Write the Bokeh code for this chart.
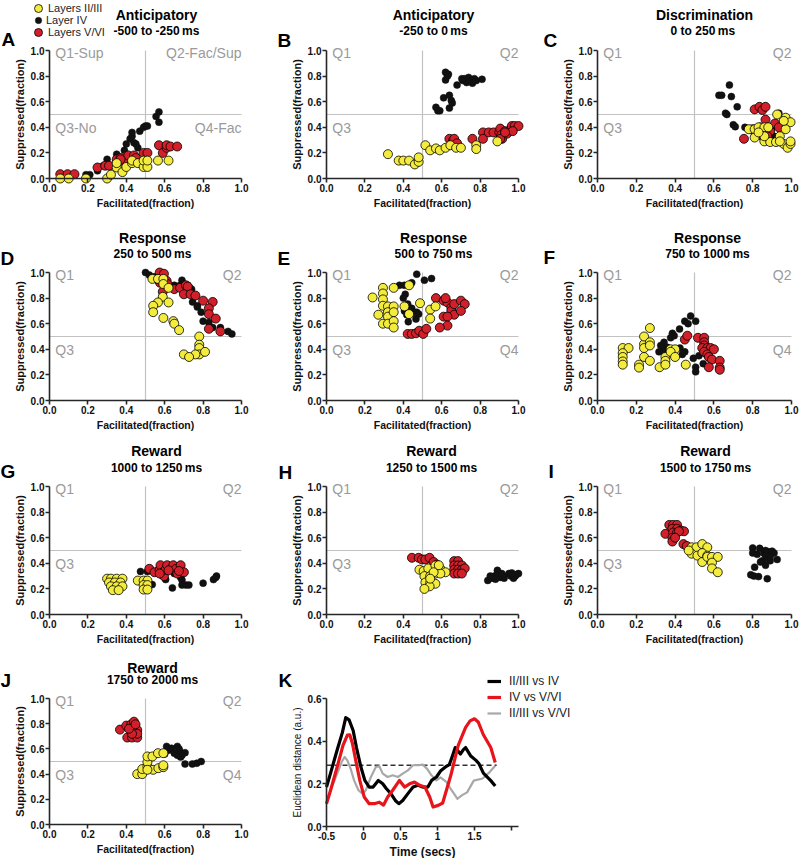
from bokeh.plotting import figure
from bokeh.models import Range1d, Legend, LegendItem, FixedTicker, PrintfTickFormatter
from bokeh.layouts import row, column
from bokeh.embed import file_html
from bokeh.resources import INLINE
from bokeh.core.properties import value

# ---------------------------------------------------------------- data
LAYER_NAMES = ["Layers II/III", "Layer IV", "Layers V/VI"]
AXIS_TICKS = [0.0, 0.2, 0.4, 0.6, 0.8, 1.0]
X_LABEL = "Facilitated(fraction)"
Y_LABEL = "Suppressed(fraction)"
QUAD_SPLIT = 0.5
Q_TOP_Y = 0.98
Q_LOW_Y = 0.395

A_TITLE = ["Anticipatory", "-500 to -250\u2009ms"]
B_TITLE = ["Anticipatory", "-250 to 0\u2009ms"]
C_TITLE = ["Discrimination", "0 to  250\u2009ms"]
D_TITLE = ["Response", "250 to 500\u2009ms"]
E_TITLE = ["Response", "500 to 750\u2009ms"]
F_TITLE = ["Response", "750 to 1000\u2009ms"]
G_TITLE = ["Reward", "1000 to 1250\u2009ms"]
H_TITLE = ["Reward", "1250 to 1500\u2009ms"]
I_TITLE = ["Reward", "1500 to 1750\u2009ms"]
J_TITLE = ["Reward", "1750 to 2000\u2009ms"]

A_QUADS = ["Q1-Sup", "Q2-Fac/Sup", "Q3-No", "Q4-Fac"]
B_QUADS = ["Q1", "Q2", "Q3", ""]
C_QUADS = ["Q1", "Q2", "Q3", ""]
D_QUADS = ["Q1", "Q2", "Q3", ""]
E_QUADS = ["Q1", "Q2", "Q3", "Q4"]
F_QUADS = ["Q1", "Q2", "", "Q4"]
G_QUADS = ["Q1", "Q2", "Q3", ""]
H_QUADS = ["Q1", "Q2", "Q3", ""]
I_QUADS = ["Q1", "Q2", "Q3", ""]
J_QUADS = ["Q1", "Q2", "Q3", "Q4"]

# (facilitated, suppressed) pairs per layer
A_L23 = [(0.056, 0.0), (0.10, 0.0), (0.19, 0.0), (0.30, 0.0), (0.32, 0.03), (0.35, 0.086), (0.35, 0.12),
         (0.38, 0.05), (0.40, 0.09), (0.43, 0.12), (0.43, 0.14), (0.46, 0.12), (0.49, 0.09), (0.49, 0.14),
         (0.51, 0.09), (0.51, 0.14), (0.565, 0.14), (0.62, 0.14)]
A_L4 = [(0.06, 0.0), (0.19, 0.03), (0.21, 0.03), (0.25, 0.06), (0.28, 0.10), (0.30, 0.15), (0.35, 0.19),
        (0.39, 0.22), (0.40, 0.27), (0.42, 0.31), (0.43, 0.33), (0.43, 0.36), (0.44, 0.28), (0.45, 0.27),
        (0.46, 0.24), (0.47, 0.37), (0.49, 0.40), (0.50, 0.41), (0.51, 0.41), (0.555, 0.485), (0.57, 0.52),
        (0.57, 0.44)]
A_L56 = [(0.056, 0.034), (0.094, 0.034), (0.13, 0.034), (0.25, 0.086), (0.29, 0.10), (0.31, 0.10),
         (0.35, 0.15), (0.37, 0.16), (0.39, 0.13), (0.41, 0.18), (0.44, 0.18), (0.49, 0.20), (0.51, 0.20),
         (0.57, 0.26), (0.59, 0.20), (0.61, 0.24), (0.61, 0.26), (0.63, 0.25), (0.665, 0.25), (0.37, 0.15),
         (0.45, 0.16)]

B_L23 = [(0.32, 0.19), (0.376, 0.14), (0.40, 0.14), (0.43, 0.14), (0.46, 0.11), (0.48, 0.13), (0.48, 0.165),
         (0.515, 0.26), (0.54, 0.22), (0.57, 0.235), (0.59, 0.22), (0.62, 0.24), (0.645, 0.26), (0.675, 0.24),
         (0.70, 0.24), (0.78, 0.26), (0.78, 0.23), (0.89, 0.29)]
B_L4 = [(0.57, 0.556), (0.58, 0.53), (0.59, 0.53), (0.61, 0.63), (0.64, 0.65), (0.65, 0.61), (0.655, 0.59),
        (0.64, 0.55), (0.62, 0.83), (0.63, 0.80), (0.62, 0.77), (0.635, 0.815), (0.68, 0.73), (0.705, 0.78),
        (0.72, 0.78), (0.74, 0.79), (0.75, 0.76), (0.77, 0.78), (0.76, 0.745), (0.78, 0.765), (0.81, 0.775),
        (0.73, 0.75), (0.71, 0.765)]
B_L56 = [(0.64, 0.31), (0.66, 0.30), (0.665, 0.31), (0.68, 0.275), (0.76, 0.31), (0.815, 0.36), (0.815, 0.31),
         (0.845, 0.36), (0.87, 0.36), (0.90, 0.36), (0.905, 0.39), (0.91, 0.34), (0.915, 0.31), (0.93, 0.37),
         (0.94, 0.35), (0.96, 0.385), (0.965, 0.41), (0.98, 0.41), (1.0, 0.41), (0.97, 0.37), (0.905, 0.31),
         (0.93, 0.36)]

C_L23 = [(0.78, 0.385), (0.81, 0.385), (0.83, 0.40), (0.86, 0.40), (0.88, 0.40), (0.81, 0.32), (0.86, 0.29),
         (0.89, 0.285), (0.92, 0.285), (0.94, 0.33), (0.926, 0.50), (0.97, 0.475), (0.995, 0.44), (0.97, 0.385),
         (0.96, 0.27), (0.98, 0.24), (0.995, 0.27), (0.94, 0.29), (0.995, 0.29), (0.86, 0.33), (0.96, 0.45),
         (0.83, 0.36)]
C_L4 = [(0.626, 0.65), (0.64, 0.65), (0.68, 0.73), (0.69, 0.64), (0.66, 0.51), (0.667, 0.50), (0.72, 0.56),
        (0.70, 0.42), (0.71, 0.405), (0.76, 0.40), (0.79, 0.39), (0.83, 0.36), (0.86, 0.35), (0.88, 0.39),
        (0.90, 0.40), (0.935, 0.51), (0.95, 0.42), (0.96, 0.43), (0.87, 0.36), (0.91, 0.33)]
C_L56 = [(0.81, 0.54), (0.835, 0.56), (0.85, 0.535), (0.866, 0.56), (0.866, 0.46), (0.755, 0.31), (0.80, 0.385),
         (0.82, 0.37), (0.84, 0.36), (0.85, 0.33), (0.86, 0.39), (0.88, 0.40), (0.89, 0.37), (0.915, 0.43),
         (0.935, 0.40), (0.875, 0.33), (0.815, 0.345), (0.84, 0.40)]

D_L23 = [(0.536, 0.95), (0.565, 0.95), (0.593, 0.95), (0.593, 0.91), (0.62, 0.88), (0.59, 0.81), (0.565, 0.766),
         (0.62, 0.766), (0.54, 0.74), (0.54, 0.69), (0.593, 0.645), (0.645, 0.62), (0.65, 0.60), (0.675, 0.55),
         (0.78, 0.50), (0.78, 0.436), (0.78, 0.41), (0.78, 0.36), (0.81, 0.38), (0.76, 0.36), (0.70, 0.36),
         (0.727, 0.34)]
D_L4 = [(0.50, 1.0), (0.52, 0.98), (0.545, 0.966), (0.57, 0.95), (0.65, 0.90), (0.69, 0.94), (0.72, 0.90),
        (0.73, 0.88), (0.74, 0.87), (0.745, 0.77), (0.77, 0.74), (0.79, 0.69), (0.80, 0.62), (0.83, 0.61),
        (0.85, 0.57), (0.89, 0.57), (0.93, 0.54), (0.95, 0.52), (0.77, 0.73), (0.68, 0.90), (0.71, 0.88)]
D_L56 = [(0.574, 1.0), (0.596, 0.99), (0.576, 0.92), (0.59, 0.85), (0.61, 0.935), (0.614, 0.91), (0.65, 0.87),
         (0.68, 0.88), (0.71, 0.90), (0.72, 0.89), (0.70, 0.83), (0.735, 0.83), (0.76, 0.82), (0.80, 0.78),
         (0.85, 0.77), (0.83, 0.72), (0.83, 0.675), (0.866, 0.64), (0.83, 0.56), (0.89, 0.54), (0.56, 0.95)]

E_L23 = [(0.24, 0.805), (0.294, 0.88), (0.294, 0.836), (0.294, 0.79), (0.294, 0.74), (0.294, 0.60),
         (0.27, 0.67), (0.32, 0.735), (0.32, 0.69), (0.32, 0.655), (0.32, 0.60), (0.35, 0.88), (0.35, 0.735),
         (0.35, 0.69), (0.35, 0.62), (0.35, 0.57), (0.43, 0.90), (0.406, 0.735), (0.43, 0.675), (0.487, 0.76),
         (0.54, 0.71), (0.568, 0.735), (0.54, 0.64)]
E_L4 = [(0.38, 0.90), (0.406, 0.90), (0.444, 0.92), (0.47, 0.987), (0.51, 0.94), (0.547, 0.953), (0.41, 0.83),
        (0.40, 0.80), (0.423, 0.753), (0.426, 0.70), (0.418, 0.67), (0.426, 0.615), (0.444, 0.72),
        (0.453, 0.69), (0.47, 0.69), (0.48, 0.675), (0.466, 0.636), (0.44, 0.68), (0.406, 0.70)]
E_L56 = [(0.423, 0.52), (0.444, 0.52), (0.466, 0.525), (0.483, 0.545), (0.504, 0.52), (0.52, 0.56),
         (0.57, 0.80), (0.61, 0.78), (0.63, 0.766), (0.65, 0.727), (0.65, 0.70), (0.665, 0.67), (0.665, 0.753),
         (0.70, 0.78), (0.72, 0.753), (0.70, 0.70), (0.61, 0.655), (0.63, 0.655), (0.63, 0.585), (0.59, 0.57),
         (0.62, 0.80)]

F_L23 = [(0.13, 0.41), (0.16, 0.41), (0.13, 0.37), (0.13, 0.34), (0.13, 0.305), (0.13, 0.28), (0.214, 0.28),
         (0.214, 0.257), (0.24, 0.44), (0.24, 0.50), (0.24, 0.41), (0.24, 0.34), (0.27, 0.566), (0.27, 0.455),
         (0.27, 0.43), (0.27, 0.31), (0.32, 0.26), (0.35, 0.34), (0.35, 0.31), (0.35, 0.28), (0.377, 0.40),
         (0.40, 0.40), (0.377, 0.38), (0.40, 0.34), (0.455, 0.28)]
F_L4 = [(0.317, 0.38), (0.326, 0.43), (0.343, 0.455), (0.36, 0.416), (0.343, 0.39), (0.377, 0.49),
        (0.386, 0.525), (0.395, 0.506), (0.425, 0.41), (0.437, 0.36), (0.45, 0.38), (0.423, 0.558),
        (0.45, 0.62), (0.467, 0.60), (0.48, 0.66), (0.506, 0.62), (0.494, 0.33), (0.506, 0.26),
        (0.506, 0.224), (0.523, 0.35), (0.545, 0.288)]
F_L56 = [(0.45, 0.476), (0.463, 0.506), (0.518, 0.49), (0.55, 0.49), (0.55, 0.455), (0.55, 0.43), (0.54, 0.41),
         (0.566, 0.41), (0.583, 0.41), (0.55, 0.38), (0.566, 0.36), (0.574, 0.34), (0.59, 0.32), (0.574, 0.26),
         (0.63, 0.31), (0.63, 0.257), (0.63, 0.24), (0.60, 0.40)]

G_L23 = [(0.30, 0.28), (0.32, 0.28), (0.35, 0.28), (0.38, 0.28), (0.31, 0.25), (0.34, 0.25), (0.37, 0.25),
         (0.32, 0.22), (0.35, 0.22), (0.38, 0.22), (0.33, 0.19), (0.36, 0.19), (0.46, 0.265), (0.49, 0.265),
         (0.51, 0.265), (0.49, 0.23), (0.51, 0.23), (0.49, 0.195), (0.51, 0.195)]
G_L4 = [(0.474, 0.336), (0.51, 0.336), (0.535, 0.234), (0.587, 0.305), (0.605, 0.273), (0.64, 0.208),
        (0.665, 0.344), (0.683, 0.29), (0.69, 0.27), (0.69, 0.23), (0.71, 0.23), (0.726, 0.23), (0.80, 0.245),
        (0.854, 0.273), (0.866, 0.29), (0.87, 0.30), (0.65, 0.32)]
G_L56 = [(0.52, 0.357), (0.547, 0.33), (0.573, 0.35), (0.578, 0.385), (0.59, 0.33), (0.596, 0.30),
         (0.605, 0.35), (0.574, 0.32), (0.613, 0.385), (0.636, 0.36), (0.645, 0.385), (0.657, 0.355),
         (0.666, 0.32), (0.683, 0.385), (0.70, 0.33), (0.62, 0.345), (0.674, 0.34)]

H_L23 = [(0.484, 0.35), (0.506, 0.34), (0.53, 0.36), (0.567, 0.383), (0.593, 0.357), (0.62, 0.33),
         (0.51, 0.30), (0.54, 0.30), (0.567, 0.32), (0.593, 0.32), (0.515, 0.25), (0.54, 0.247), (0.567, 0.24),
         (0.537, 0.22), (0.51, 0.20), (0.558, 0.33), (0.585, 0.385), (0.54, 0.28)]
H_L4 = [(0.84, 0.266), (0.86, 0.284), (0.875, 0.30), (0.89, 0.32), (0.89, 0.345), (0.905, 0.29), (0.92, 0.30),
        (0.925, 0.284), (0.95, 0.32), (0.96, 0.30), (0.974, 0.284), (0.983, 0.30), (0.99, 0.313), (1.0, 0.32),
        (0.88, 0.276), (0.913, 0.32), (0.965, 0.325), (0.853, 0.30)]
H_L56 = [(0.445, 0.443), (0.48, 0.443), (0.497, 0.43), (0.515, 0.43), (0.537, 0.443), (0.558, 0.41),
         (0.575, 0.39), (0.665, 0.417), (0.685, 0.417), (0.665, 0.383), (0.685, 0.383), (0.705, 0.383),
         (0.665, 0.35), (0.685, 0.35), (0.705, 0.35), (0.72, 0.36), (0.665, 0.32), (0.685, 0.32), (0.705, 0.32)]

I_L23 = [(0.485, 0.525), (0.51, 0.525), (0.54, 0.55), (0.566, 0.525), (0.485, 0.475), (0.515, 0.46),
         (0.54, 0.48), (0.566, 0.46), (0.54, 0.41), (0.566, 0.45), (0.59, 0.45), (0.62, 0.45), (0.59, 0.405),
         (0.59, 0.36), (0.62, 0.33), (0.47, 0.50)]
I_L4 = [(0.80, 0.52), (0.80, 0.48), (0.823, 0.47), (0.836, 0.517), (0.857, 0.48), (0.866, 0.50), (0.883, 0.49),
        (0.90, 0.495), (0.91, 0.48), (0.866, 0.46), (0.85, 0.42), (0.875, 0.44), (0.84, 0.41), (0.866, 0.385),
        (0.89, 0.42), (0.926, 0.43), (0.81, 0.37), (0.79, 0.31), (0.806, 0.30), (0.83, 0.296), (0.875, 0.28),
        (0.89, 0.45)]
I_L56 = [(0.35, 0.63), (0.37, 0.70), (0.39, 0.70), (0.41, 0.70), (0.386, 0.67), (0.41, 0.67), (0.43, 0.656),
         (0.446, 0.65), (0.39, 0.64), (0.41, 0.64), (0.386, 0.60), (0.386, 0.57), (0.443, 0.55), (0.46, 0.535),
         (0.42, 0.65), (0.40, 0.60)]

J_L23 = [(0.457, 0.40), (0.483, 0.40), (0.483, 0.44), (0.51, 0.46), (0.51, 0.495), (0.51, 0.54), (0.536, 0.54),
         (0.565, 0.566), (0.593, 0.566), (0.54, 0.434), (0.567, 0.447), (0.593, 0.455), (0.593, 0.47),
         (0.51, 0.434)]
J_L4 = [(0.61, 0.62), (0.62, 0.59), (0.636, 0.605), (0.666, 0.62), (0.65, 0.566), (0.666, 0.55), (0.678, 0.58),
        (0.683, 0.535), (0.706, 0.57), (0.706, 0.48), (0.744, 0.48), (0.767, 0.486), (0.79, 0.50),
        (0.675, 0.60), (0.69, 0.55), (0.60, 0.56)]
J_L56 = [(0.367, 0.753), (0.40, 0.785), (0.405, 0.69), (0.43, 0.69), (0.457, 0.69), (0.426, 0.795),
         (0.44, 0.816), (0.445, 0.78), (0.44, 0.74), (0.457, 0.75), (0.457, 0.72), (0.43, 0.72), (0.414, 0.76),
         (0.448, 0.795)]

# panel K: Euclidean distance between layer populations over time
K_SERIES = ["II/III vs IV", "IV vs V/VI", "II/III vs V/VI"]
K_X_LABEL = "Time (secs)"
K_Y_LABEL = "Euclidean distance (a.u.)"
K_X_BOUNDS = (-0.5, 2.1)
K_Y_BOUNDS = (0.0, 0.6)
K_X_TICKS = [-0.5, 0, 0.5, 1, 1.5, 2]
K_X_TICK_LABELS = {-0.5: "-0.5", 0: "0", 0.5: "0.5", 1: "1", 1.5: "1.5", 2: ""}
K_Y_TICKS = [0.0, 0.2, 0.4, 0.6]
K_THRESHOLD = 0.287
K_THRESHOLD_T = [-0.5, 1.8]
K_A_T = [-0.5, -0.445, -0.355, -0.286, -0.24, -0.195, -0.14, -0.095, -0.036, 0.018, 0.077, 0.13, 0.2, 0.26,
         0.31, 0.37, 0.43, 0.477, 0.53, 0.6, 0.67, 0.736, 0.8, 0.87, 0.92, 0.986, 1.04, 1.12, 1.16, 1.205,
         1.24, 1.31, 1.35, 1.38, 1.45, 1.52, 1.56, 1.62, 1.72, 1.78]
K_A_D = [0.185, 0.25, 0.36, 0.44, 0.51, 0.50, 0.45, 0.37, 0.28, 0.216, 0.185, 0.185, 0.216, 0.20, 0.177,
         0.154, 0.122, 0.107, 0.122, 0.154, 0.185, 0.193, 0.185, 0.185, 0.216, 0.232, 0.26, 0.282, 0.29,
         0.334, 0.37, 0.34, 0.36, 0.37, 0.33, 0.31, 0.295, 0.25, 0.215, 0.19]
K_B_T = [-0.5, -0.445, -0.355, -0.277, -0.218, -0.186, -0.15, -0.105, -0.05, 0.01, 0.077, 0.145, 0.214, 0.27,
         0.327, 0.395, 0.486, 0.555, 0.623, 0.69, 0.76, 0.83, 0.895, 0.94, 1.01, 1.07, 1.18, 1.28, 1.38,
         1.44, 1.5, 1.55, 1.62, 1.72, 1.78]
K_B_D = [0.107, 0.17, 0.28, 0.38, 0.428, 0.43, 0.39, 0.31, 0.216, 0.138, 0.107, 0.107, 0.114, 0.10, 0.138,
         0.17, 0.216, 0.185, 0.20, 0.208, 0.193, 0.185, 0.138, 0.091, 0.099, 0.11, 0.24, 0.38, 0.465,
         0.495, 0.505, 0.49, 0.43, 0.37, 0.30]
K_C_T = [-0.5, -0.445, -0.355, -0.295, -0.255, -0.218, -0.173, -0.127, -0.068, -0.014, 0.032, 0.1, 0.168,
         0.214, 0.26, 0.327, 0.395, 0.464, 0.53, 0.6, 0.668, 0.736, 0.8, 0.86, 0.918, 0.986, 1.04, 1.123,
         1.19, 1.27, 1.327, 1.40, 1.49, 1.61, 1.69, 1.78]
K_C_D = [0.107, 0.17, 0.248, 0.302, 0.326, 0.31, 0.27, 0.216, 0.17, 0.154, 0.17, 0.232, 0.28, 0.282, 0.248,
         0.232, 0.24, 0.232, 0.248, 0.263, 0.287, 0.287, 0.29, 0.27, 0.24, 0.216, 0.23, 0.208, 0.17, 0.13,
         0.146, 0.16, 0.215, 0.225, 0.25, 0.285]

# ---------------------------------------------------------------- style / layout
FONT = "Liberation Sans"
YELLOW = "#f4ec3c"
RED = "#d2202a"
BLACK = "#111111"
AXIS_C = "#262626"
QUAD_TEXT_C = "#9a9a9a"
QUAD_LINE_C = "#c2c2c2"
K_COLORS = ["#000000", "#e8141b", "#a8a8a8"]
K_WIDTHS = [3.2, 3.2, 2.2]

# page geometry in window pixels (Bokeh's page template has no body margin)
# column boxes: (fig left, fig right, x of 0, x of 1)
COLS = [(0, 274, 49, 241), (274, 540, 326, 518), (540, 800, 597, 791)]
# row boxes: (fig top, fig bottom, y of 1, y of 0)
ROWS = [(0, 216, 50, 178), (216, 436, 272, 400), (436, 650, 486, 614), (650, 858, 698, 824)]


def make_fig(fl, ft, fr, fb, x0px, x1px, y1px, y0px, xb, yb):
    """Figure whose frame fills the canvas; data bounds xb/yb land on the given pixels."""
    ux = (x1px - x0px) / (xb[1] - xb[0])
    uy = (y0px - y1px) / (yb[1] - yb[0])

    def fx(px):
        return xb[0] + (px - x0px) / ux

    def fy(py):
        return yb[0] + (y0px - py) / uy

    p = figure(width=fr - fl, height=fb - ft,
               x_range=Range1d(fx(fl), fx(fr)), y_range=Range1d(fy(fb), fy(ft)),
               min_border=0, min_border_left=0, min_border_right=0, min_border_top=0,
               min_border_bottom=0, title=None, output_backend="svg", toolbar_location=None)
    p.background_fill_color = "white"
    p.border_fill_color = "white"
    p.outline_line_color = None
    p.xgrid.visible = False
    p.ygrid.visible = False
    for ax in (p.xaxis[0], p.yaxis[0]):
        ax.axis_line_color = AXIS_C
        ax.axis_line_width = 1.6
        ax.major_tick_line_color = AXIS_C
        ax.major_tick_line_width = 1.6
        ax.major_tick_in = 0
        ax.major_tick_out = 4
        ax.minor_tick_line_color = None
        ax.major_label_text_font = FONT
        ax.major_label_text_font_style = "bold"
        ax.major_label_text_font_size = "10px"
        ax.major_label_text_color = "#111111"
        ax.major_label_standoff = 1
        ax.axis_label_standoff = 2
        ax.axis_label_text_font = FONT
        ax.axis_label_text_color = "#111111"
    p.xaxis[0].fixed_location = yb[0]
    p.yaxis[0].fixed_location = xb[0]
    p.xaxis[0].bounds = xb
    p.yaxis[0].bounds = yb
    return p, fx, fy


def add_text(p, x, y, txt, size, bold=True, align="center", color="#000000"):
    p.text(x=[x], y=[y], text=[txt], text_font=value(FONT), text_font_size=size,
           text_font_style="bold" if bold else "normal", text_color=color,
           text_align=align, text_baseline="middle")


def one_row_legend(label, renderer, left, center_y, fb, box):
    """A single-entry legend whose glyph box (box x box px) starts at x=left, centred at center_y."""
    return Legend(items=[LegendItem(label=label, renderers=[renderer])],
                  location=(left, fb - (center_y + box / 2)),
                  padding=0, margin=0, spacing=0, glyph_width=box, glyph_height=box,
                  label_height=box, label_standoff=0, label_text_font=FONT,
                  label_text_font_size="11px", label_text_color="#222222",
                  background_fill_alpha=0, border_line_alpha=0)


def scatter_panel(ci, ri, title, title_dx, title_dy, letter, letter_x, letter_dy, quads,
                  l23, l4, l56, legend=False):
    fl, fr, x0, x1 = COLS[ci]
    ft, fb, y1, y0 = ROWS[ri]
    p, fx, fy = make_fig(fl, ft, fr, fb, x0, x1, y1, y0, (0.0, 1.0), (0.0, 1.0))
    for ax in (p.xaxis[0], p.yaxis[0]):
        ax.ticker = FixedTicker(ticks=AXIS_TICKS)
        ax.formatter = PrintfTickFormatter(format="%.1f")
    p.xaxis[0].axis_label = X_LABEL
    p.xaxis[0].axis_label_text_font_size = "10.5px"
    p.xaxis[0].axis_label_text_font_style = "bold"
    p.yaxis[0].axis_label = Y_LABEL
    p.yaxis[0].axis_label_text_font_size = "11px"
    p.yaxis[0].axis_label_text_font_style = "bold"

    # quadrant dividers and labels
    p.segment(x0=[QUAD_SPLIT], y0=[0], x1=[QUAD_SPLIT], y1=[1], line_color=QUAD_LINE_C, line_width=1.2)
    p.segment(x0=[0], y0=[QUAD_SPLIT], x1=[1], y1=[QUAD_SPLIT], line_color=QUAD_LINE_C, line_width=1.2)
    p.text(x=[0.03, 0.03], y=[Q_TOP_Y, Q_LOW_Y], text=[quads[0], quads[2]], text_font=value(FONT),
           text_font_size="14px", text_color=QUAD_TEXT_C, text_align="left", text_baseline="middle")
    p.text(x=[1.0, 1.0], y=[Q_TOP_Y, Q_LOW_Y], text=[quads[1], quads[3]], text_font=value(FONT),
           text_font_size="14px", text_color=QUAD_TEXT_C, text_align="right", text_baseline="middle")

    r4 = p.scatter([a for a, b in l4], [b for a, b in l4], size=7, fill_color=BLACK,
                   line_color=BLACK, line_width=0.5)
    r56 = p.scatter([a for a, b in l56], [b for a, b in l56], size=9, fill_color=RED,
                    line_color="#000000", line_width=0.8)
    r23 = p.scatter([a for a, b in l23], [b for a, b in l23], size=9, fill_color=YELLOW,
                    line_color="#000000", line_width=0.8)

    # title, subtitle, panel letter
    add_text(p, fx(x0 + title_dx), fy(y1 - title_dy[0]), title[0], "14px")
    add_text(p, fx(x0 + title_dx), fy(y1 - title_dy[1]), title[1], "12px")
    add_text(p, fx(letter_x), fy(y1 - letter_dy), letter, "19px", align="left")

    if legend:
        # three one-row legends: marker centred at x=38, rows centred at y = 8, 20, 32
        p.add_layout(one_row_legend(LAYER_NAMES[0], r23, 38 - 10 - fl, 8, fb, 20))
        p.add_layout(one_row_legend(LAYER_NAMES[1], r4, 38 - 8 - fl, 20, fb, 16))
        p.add_layout(one_row_legend(LAYER_NAMES[2], r56, 38 - 10 - fl, 32, fb, 20))
    return p


pA = scatter_panel(0, 0, A_TITLE, 107, (36, 19.5), "A", 1, 11, A_QUADS, A_L23, A_L4, A_L56, legend=True)
pB = scatter_panel(1, 0, B_TITLE, 107, (36, 19.5), "B", 277, 10, B_QUADS, B_L23, B_L4, B_L56)
pC = scatter_panel(2, 0, C_TITLE, 107, (36, 19.5), "C", 543, 10, C_QUADS, C_L23, C_L4, C_L56)
pD = scatter_panel(0, 1, D_TITLE, 103, (35, 19), "D", 0, 14, D_QUADS, D_L23, D_L4, D_L56)
pE = scatter_panel(1, 1, E_TITLE, 107, (35, 19), "E", 277, 14, E_QUADS, E_L23, E_L4, E_L56)
pF = scatter_panel(2, 1, F_TITLE, 110, (35, 19), "F", 543, 15, F_QUADS, F_L23, F_L4, F_L56)
pG = scatter_panel(0, 2, G_TITLE, 107, (36, 19), "G", 0, 15, G_QUADS, G_L23, G_L4, G_L56)
pH = scatter_panel(1, 2, H_TITLE, 105, (36, 19), "H", 278, 14, H_QUADS, H_L23, H_L4, H_L56)
pI = scatter_panel(2, 2, I_TITLE, 108, (36, 19), "I", 548, 15, I_QUADS, I_L23, I_L4, I_L56)
pJ = scatter_panel(0, 3, J_TITLE, 103, (31, 19), "J", 0, 18, J_QUADS, J_L23, J_L4, J_L56)

# ---- panel K
k_fl, k_fr = 274, 800
k_ft, k_fb = 650, 858
pK, kx, ky = make_fig(k_fl, k_ft, k_fr, k_fb, 326, 518.4, 698, 826, K_X_BOUNDS, K_Y_BOUNDS)
pK.xaxis[0].ticker = FixedTicker(ticks=K_X_TICKS)
pK.xaxis[0].major_label_overrides = K_X_TICK_LABELS
pK.yaxis[0].ticker = FixedTicker(ticks=K_Y_TICKS)
pK.yaxis[0].formatter = PrintfTickFormatter(format="%.1f")
pK.xaxis[0].axis_label = K_X_LABEL
pK.xaxis[0].axis_label_text_font_size = "12px"
pK.xaxis[0].axis_label_text_font_style = "bold"
pK.yaxis[0].axis_label = K_Y_LABEL
pK.yaxis[0].axis_label_text_font_size = "10px"
pK.yaxis[0].axis_label_text_font_style = "normal"

pK.line(K_THRESHOLD_T, [K_THRESHOLD, K_THRESHOLD], line_color="#333333", line_width=1.6, line_dash="5 3")
rk_c = pK.line(K_C_T, K_C_D, line_color=K_COLORS[2], line_width=K_WIDTHS[2], line_join="round")
rk_a = pK.line(K_A_T, K_A_D, line_color=K_COLORS[0], line_width=K_WIDTHS[0], line_join="round")
rk_b = pK.line(K_B_T, K_B_D, line_color=K_COLORS[1], line_width=K_WIDTHS[1], line_join="round")
add_text(pK, kx(278), ky(698 - 18), "K", "19px", align="left")
# legend box: glyphs from x=487, rows centred at y = 681, 697, 713 (height 48)
lgK = Legend(items=[LegendItem(label=K_SERIES[0], renderers=[rk_a]),
                    LegendItem(label=K_SERIES[1], renderers=[rk_b]),
                    LegendItem(label=K_SERIES[2], renderers=[rk_c])],
             location=(487 - k_fl, k_fb - 721),
             padding=0, margin=0, spacing=0, glyph_width=14, glyph_height=16, label_height=16,
             label_standoff=8, label_text_font=FONT, label_text_font_size="12px",
             label_text_color="#222222", background_fill_alpha=0, border_line_alpha=0)
pK.add_layout(lgK)

layout = column(row(pA, pB, pC), row(pD, pE, pF), row(pG, pH, pI), row(pJ, pK))

with open("out.html", "w") as f:
    f.write(file_html(layout, INLINE))
